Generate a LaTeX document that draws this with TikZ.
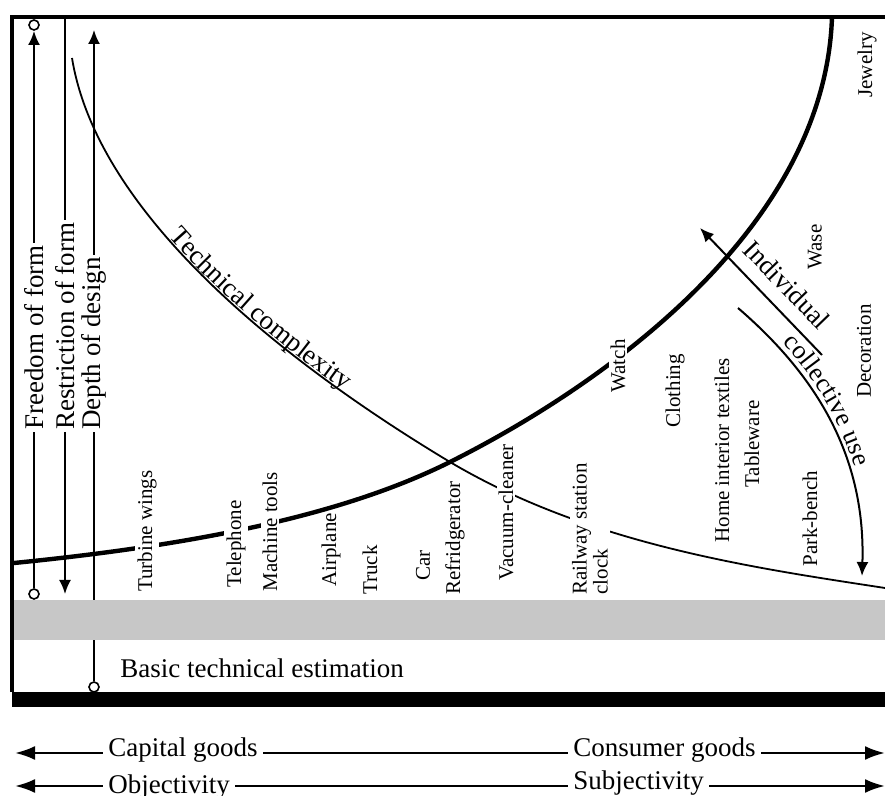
\documentclass[tikz,border=0pt]{standalone}
\usepackage{fontspec}
\setmainfont{Liberation Serif}
\usetikzlibrary{arrows.meta, decorations.text}

\newcommand{\bigLabelFont}{\fontsize{13.5}{15}\selectfont}
\newcommand{\smallLabelFont}{\fontsize{10.5}{10.5}\selectfont}
\newcommand{\useFont}{\fontsize{13.5}{15}\selectfont}

\definecolor{bandgray}{gray}{0.78}

\tikzset{
    measureline/.style={line width=1pt},
    ring/.style={circle, draw, fill=white, line width=0.8pt, inner sep=0pt, minimum size=5pt},
    uptext/.style={rotate=90, anchor=west, inner sep=1pt},
    measure/.style={uptext, font=\bigLabelFont},
    product/.style={uptext, fill=white, font=\smallLabelFont},
    goods/.style={anchor=base west, inner sep=2.5pt, font=\bigLabelFont},
    goodsline/.style={line width=1.3pt},
    bigtip/.tip={Latex[length=10pt,width=7pt]},
    midtip/.tip={Latex[length=7pt,width=6pt]},
}

\begin{document}
\begin{tikzpicture}[x=0.5pt, y=-0.5pt]
    \useasboundingbox (0,0) rectangle (885,796);

    % Frame
        % variables
        \def\frameLeft{12}
        \def\frameTop{17}
        \def\frameRight{885}
        \def\barTop{692}
        \def\barBottom{707}

        \fill (\frameLeft,\barTop) rectangle (\frameRight,\barBottom);
        \draw[line width=1.8pt] (\frameLeft,\barTop) -- (\frameLeft,\frameTop) -- (\frameRight,\frameTop);

    % Vertical measures
        % variables
        \def\freeX{34}
        \def\restX{65}
        \def\depthX{94}
        \def\labelY{432}

        % freedom of form
        \node[ring] (freeBottom) at (\freeX,594) {};
        \node[ring] (freeTop) at (\freeX,25) {};
        \coordinate (freeTip) at (\freeX,31);
        \node[measure] (freeLabel) at (\freeX,\labelY) {Freedom of form};
        \draw[measureline] (freeBottom) -- (freeLabel.west);
        \draw[measureline, -midtip] (freeLabel.east) -- (freeTip);

        % restriction of form
        \coordinate (restTop) at (\restX,\frameTop);
        \coordinate (restTip) at (\restX,594);
        \node[measure] (restLabel) at (\restX,\labelY) {Restriction of form};
        \draw[measureline] (restTop) -- (restLabel.east);
        \draw[measureline, -midtip] (restLabel.west) -- (restTip);

        % depth of design
        \node[ring] (depthBottom) at (\depthX,687) {};
        \coordinate (depthTip) at (\depthX,30);
        \node[measure] (depthLabel) at (\depthX,\labelY) {Depth of design};
        \draw[measureline] (depthBottom) -- (depthLabel.west);
        \draw[measureline, -midtip] (depthLabel.east) -- (depthTip);

    % Grey band
    \fill[bandgray] (\frameLeft+2,600) rectangle (\frameRight,640);
    \node[anchor=base west, inner sep=0pt, font=\bigLabelFont] (basic) at (120,678) {Basic technical estimation};

    % Curves
        % thick curve
        \draw[line width=2.2pt] (14,563) .. controls (164,548) and (330,522) .. (450,462)
            .. controls (600,387) and (825,230) .. (832,17);

        % technical complexity
        \draw[line width=0.9pt, postaction={decorate, decoration={text along path, text={|\bigLabelFont|Technical complexity}, text align={left indent=103pt}, raise=1pt}}]
            (72,58) .. controls (100,230) and (320,384) .. (450,462)
            .. controls (590,545) and (755,568) .. (885,588);

    % Individual / collective use
        \coordinate (indStart) at (822,355);
        \coordinate (indTip) at (700,228);
        \draw[measureline, -midtip] (indStart) -- (indTip);
        \node[rotate=-46, font=\useFont, inner sep=0pt] (individual) at (787,285) {Individual};

        \coordinate (colStart) at (738,308);
        \coordinate (colTip) at (862,576);
        \draw[measureline, -midtip] (colStart) .. controls (810,370) and (866,450) .. (colTip);
        \path[decorate, decoration={text along path, text={|\fontsize{13}{15}\selectfont|collective use}, text align={left indent=28pt}, raise=3pt}]
            (colStart) .. controls (810,370) and (866,450) .. (colTip);

    % Products
    \node[product] (turbine) at (147,594) {Turbine wings};
    \node[product] (telephone) at (236,590) {Telephone};
    \node[product] (machine) at (270,594) {Machine tools};
    \node[product, fill=none] (airplane) at (331,589) {Airplane};
    \node[product] (truck) at (370,597) {Truck};
    \node[product] (car) at (423,583) {Car};
    \node[product] (fridge) at (455,597) {Refridgerator};
    \node[product] (vacuum) at (506,583) {Vacuum-cleaner};
    \node[product, align=left] (railway) at (590,597) {Railway station\\clock};
    \node[product] (watch) at (618,395) {Watch};
    \node[product] (clothing) at (675,430) {Clothing};
    \node[product] (textiles) at (722,545) {Home interior textiles};
    \node[product] (tableware) at (752,490) {Tableware};
    \node[product] (bench) at (810,569) {Park-bench};
    \node[product] (decoration) at (864,400) {Decoration};
    \node[product] (wase) at (815,272) {Wase};
    \node[product] (jewelry) at (867,100) {Jewelry};

    % Goods arrows
        % variables
        \def\goodsY{753}
        \def\viewY{786}

        \coordinate (goodsLeft) at (15,\goodsY);
        \coordinate (goodsRight) at (885,\goodsY);
        \node[goods] (capital) at (103,757) {Capital goods};
        \node[goods] (consumer) at (568,757) {Consumer goods};
        \draw[goodsline, bigtip-] (goodsLeft) -- (goodsLeft -| capital.west);
        \draw[goodsline] (capital.east |- goodsLeft) -- (consumer.west |- goodsLeft);
        \draw[goodsline, -bigtip] (consumer.east |- goodsLeft) -- (goodsRight);

        \coordinate (viewLeft) at (15,\viewY);
        \coordinate (viewRight) at (885,\viewY);
        \node[goods] (objective) at (103,794) {Objectivity};
        \node[goods] (subjective) at (568,790) {Subjectivity};
        \draw[goodsline, bigtip-] (viewLeft) -- (viewLeft -| objective.west);
        \draw[goodsline] (objective.east |- viewLeft) -- (subjective.west |- viewLeft);
        \draw[goodsline, -bigtip] (subjective.east |- viewLeft) -- (viewRight);
\end{tikzpicture}
\end{document}
